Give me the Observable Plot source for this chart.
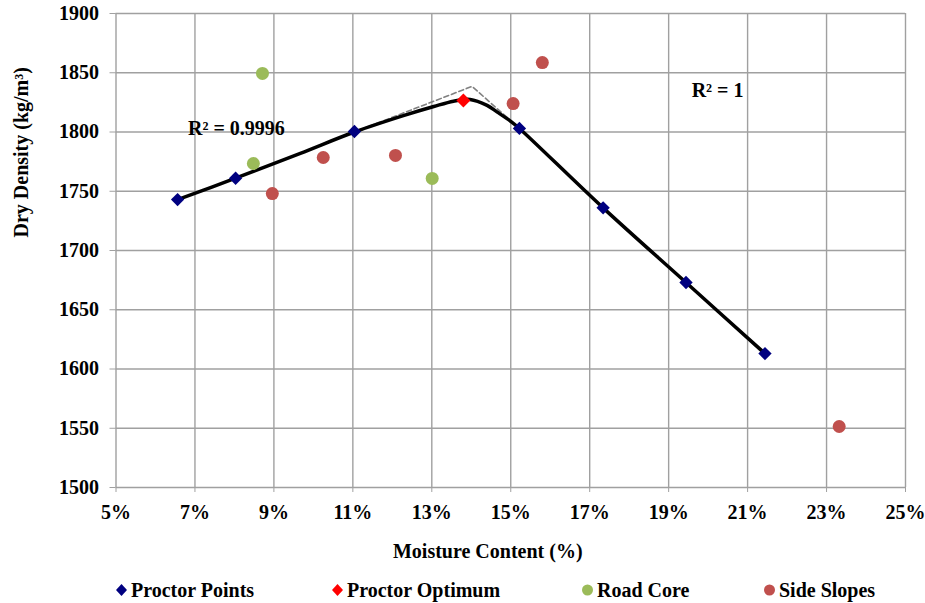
<!DOCTYPE html>
<html>
<head>
<meta charset="utf-8">
<script src="https://cdn.jsdelivr.net/npm/d3@7"></script>
<script src="https://cdn.jsdelivr.net/npm/@observablehq/plot@0.6"></script>
<style>
  body { margin: 0; background: #fff; font-family: "Liberation Serif", "Times New Roman", serif; }
  #wrap { position: relative; width: 925px; height: 603px; }
  #legend { position: absolute; top: 578px; left: 0; width: 925px; height: 24px; font-weight: bold; font-size: 20px; line-height: 24px; }
  .item { position: absolute; top: 0; display: flex; align-items: center; gap: 3px; }
</style>
</head>
<body>
<div id="wrap">
  <div id="chart"></div>
  <div id="legend"></div>
</div>
<script>
// ---- data ----
const proctorX = [6.56, 8.03, 11.04, 15.22, 17.34, 19.44, 21.44];
const proctorY = [1743, 1761, 1800.4, 1803, 1736, 1673, 1613];
const optimumX = [13.8];
const optimumY = [1826.6];
const roadCoreX = [8.71, 8.48, 13.01];
const roadCoreY = [1849.4, 1773.4, 1760.8];
const sideSlopeX = [8.96, 10.25, 12.08, 15.06, 15.8, 23.32];
const sideSlopeY = [1748, 1778.5, 1780.2, 1824, 1858.6, 1551.5];
// fitted curve
const curveX = [6.56, 8.03, 9.67, 11.04, 12.3, 13.05, 13.55, 13.97, 14.4, 14.65, 15.0, 15.22, 17.34, 19.44, 21.44];
const curveY = [1743, 1761, 1782, 1800, 1814, 1821.5, 1826, 1827.5, 1822.5, 1817, 1809, 1803, 1736, 1673, 1613];
// dashed linear fits
const dashX = [11.04, 14.02, 15.22];
const dashY = [1800, 1838.5, 1803];
const xTicks = [5, 7, 9, 11, 13, 15, 17, 19, 21, 23, 25];
const yTicks = [1500, 1550, 1600, 1650, 1700, 1750, 1800, 1850, 1900];
const r2Labels = [{x: 8.05, y: 1803, t: "R² = 0.9996"}, {x: 20.24, y: 1835, t: "R² = 1"}];
const legendNames = ["Proctor Points", "Proctor Optimum", "Road Core", "Side Slopes"];
const legendColors = ["#000080", "#FF0000", "#9BBB59", "#C0504D"];
const legendShapes = ["diamond", "diamond", "circle", "circle"];
const legendLeft = [115, 331, 581, 763];

const zip = (xs, ys) => xs.map((x, i) => ({x, y: ys[i]}));
const font = "Liberation Serif, Times New Roman, serif";

const plot = Plot.plot({
  width: 925,
  height: 570,
  marginLeft: 115.5,
  marginRight: 20,
  marginTop: 13,
  marginBottom: 83,
  style: {fontFamily: font, fontWeight: "bold", fontSize: "20px", color: "#000", background: "#fff"},
  x: {domain: [5, 25]},
  y: {domain: [1500, 1900]},
  marks: [
    Plot.gridX(xTicks, {stroke: "#a0a0a0", strokeOpacity: 1, strokeWidth: 1.4}),
    Plot.gridY(yTicks, {stroke: "#a0a0a0", strokeOpacity: 1, strokeWidth: 1.4}),
    Plot.axisX(xTicks, {tickSize: 5, tickPadding: 12, tickFormat: d => d + "%", stroke: "#a0a0a0", label: null, fontSize: 20}),
    Plot.axisY(yTicks, {tickSize: 6, tickPadding: 11, tickFormat: d => String(d), stroke: "#a0a0a0", label: null, fontSize: 20}),
    Plot.line(zip(dashX, dashY), {x: "x", y: "y", stroke: "#808080", strokeWidth: 1.6, strokeDasharray: "5,3"}),
    Plot.line(zip(curveX, curveY), {x: "x", y: "y", stroke: "#000", strokeWidth: 3.5, curve: "catmull-rom"}),
    Plot.dot(zip(proctorX, proctorY), {x: "x", y: "y", symbol: "diamond2", r: 6, fill: "#000080", stroke: "none"}),
    Plot.dot(zip(optimumX, optimumY), {x: "x", y: "y", symbol: "diamond2", r: 6.3, fill: "#FF0000", stroke: "none"}),
    Plot.dot(zip(roadCoreX, roadCoreY), {x: "x", y: "y", r: 6.5, fill: "#9BBB59", stroke: "none"}),
    Plot.dot(zip(sideSlopeX, sideSlopeY), {x: "x", y: "y", r: 6.5, fill: "#C0504D", stroke: "none"}),
    Plot.text(r2Labels, {x: "x", y: "y", text: "t", fontSize: 20, fontWeight: "bold", fill: "#000"}),
    Plot.text(["Moisture Content (%)"], {frameAnchor: "bottom", dx: -23, dy: 70, fontSize: 20, fontWeight: "bold", fill: "#000"}),
    Plot.text(["Dry Density (kg/m³)"], {frameAnchor: "left", dx: -94, dy: -13, rotate: -90, fontSize: 20, fontWeight: "bold", fill: "#000"})
  ]
});
document.getElementById("chart").appendChild(plot);

// legend
const leg = document.getElementById("legend");
legendNames.forEach((name, i) => {
  const div = document.createElement("div");
  div.className = "item";
  div.style.left = legendLeft[i] + "px";
  const shape = legendShapes[i] === "diamond"
    ? `<svg width="13" height="14"><polygon points="6.5,1 12,7 6.5,13 1,7" fill="${legendColors[i]}"/></svg>`
    : `<svg width="13" height="14"><circle cx="6.5" cy="7" r="5.5" fill="${legendColors[i]}"/></svg>`;
  div.innerHTML = shape + `<span>${name}</span>`;
  leg.appendChild(div);
});
</script>
</body>
</html>
